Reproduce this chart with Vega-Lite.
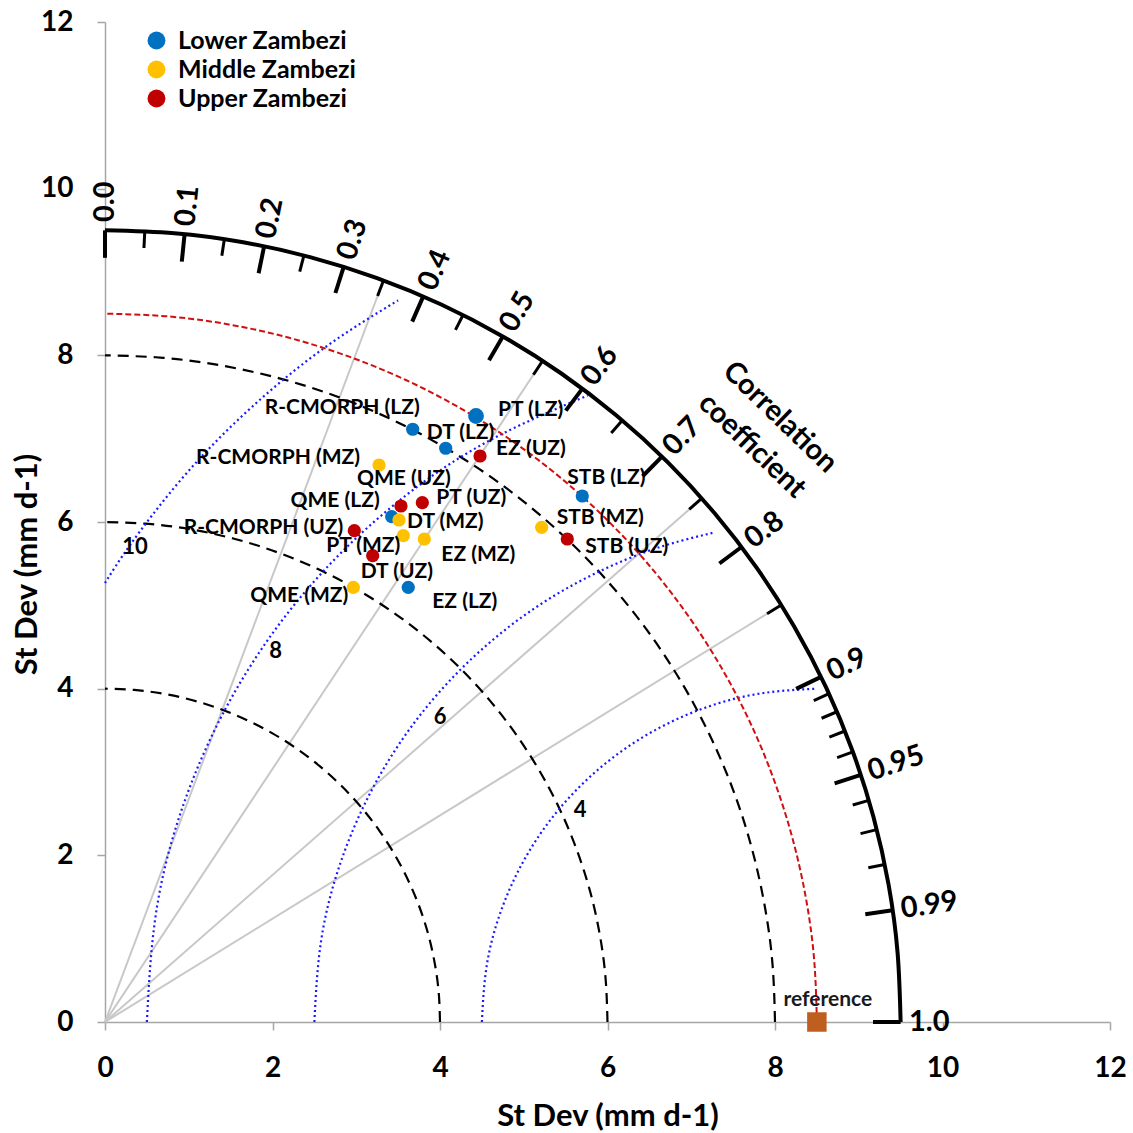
{
"$schema":"https://vega.github.io/schema/vega-lite/v6.json",
"width":1005,"height":1000,
"autosize":{"type":"none"},
"padding":{"left":105,"top":22,"right":23,"bottom":111},
"background":"white",
"config":{"view":{"stroke":null},"font":"Lato"},
"datasets":{
"pts":[
{"name":"PT (LZ)","region":"Lower Zambezi","x":4.430,"y":7.272},
{"name":"R-CMORPH (LZ)","region":"Lower Zambezi","x":3.674,"y":7.113},
{"name":"DT (LZ)","region":"Lower Zambezi","x":4.068,"y":6.885},
{"name":"STB (LZ)","region":"Lower Zambezi","x":5.699,"y":6.312},
{"name":"QME (LZ)","region":"Lower Zambezi","x":3.423,"y":6.064},
{"name":"EZ (LZ)","region":"Lower Zambezi","x":3.621,"y":5.216},
{"name":"R-CMORPH (MZ)","region":"Middle Zambezi","x":3.272,"y":6.684},
{"name":"DT (MZ)","region":"Middle Zambezi","x":3.510,"y":6.024},
{"name":"PT (MZ)","region":"Middle Zambezi","x":3.562,"y":5.836},
{"name":"EZ (MZ)","region":"Middle Zambezi","x":3.813,"y":5.796},
{"name":"STB (MZ)","region":"Middle Zambezi","x":5.214,"y":5.936},
{"name":"QME (MZ)","region":"Middle Zambezi","x":2.965,"y":5.216},
{"name":"EZ (UZ)","region":"Upper Zambezi","x":4.478,"y":6.792},
{"name":"QME (UZ)","region":"Upper Zambezi","x":3.534,"y":6.192},
{"name":"PT (UZ)","region":"Upper Zambezi","x":3.789,"y":6.232},
{"name":"R-CMORPH (UZ)","region":"Upper Zambezi","x":2.977,"y":5.896},
{"name":"DT (UZ)","region":"Upper Zambezi","x":3.196,"y":5.596},
{"name":"STB (UZ)","region":"Upper Zambezi","x":5.520,"y":5.796}
],
"curves":[
{"curve":"sd4","i":0,"x":4,"y":0},{"curve":"sd4","i":1,"x":3.985,"y":0.349},{"curve":"sd4","i":2,"x":3.939,"y":0.695},{"curve":"sd4","i":3,"x":3.864,"y":1.035},{"curve":"sd4","i":4,"x":3.759,"y":1.368},{"curve":"sd4","i":5,"x":3.625,"y":1.69},{"curve":"sd4","i":6,"x":3.464,"y":2},{"curve":"sd4","i":7,"x":3.277,"y":2.294},{"curve":"sd4","i":8,"x":3.064,"y":2.571},{"curve":"sd4","i":9,"x":2.828,"y":2.828},{"curve":"sd4","i":10,"x":2.571,"y":3.064},{"curve":"sd4","i":11,"x":2.294,"y":3.277},{"curve":"sd4","i":12,"x":2,"y":3.464},{"curve":"sd4","i":13,"x":1.69,"y":3.625},{"curve":"sd4","i":14,"x":1.368,"y":3.759},{"curve":"sd4","i":15,"x":1.035,"y":3.864},{"curve":"sd4","i":16,"x":0.695,"y":3.939},{"curve":"sd4","i":17,"x":0.349,"y":3.985},{"curve":"sd4","i":18,"x":0,"y":4},
{"curve":"sd6","i":0,"x":6,"y":0},{"curve":"sd6","i":1,"x":5.977,"y":0.523},{"curve":"sd6","i":2,"x":5.909,"y":1.042},{"curve":"sd6","i":3,"x":5.796,"y":1.553},{"curve":"sd6","i":4,"x":5.638,"y":2.052},{"curve":"sd6","i":5,"x":5.438,"y":2.536},{"curve":"sd6","i":6,"x":5.196,"y":3},{"curve":"sd6","i":7,"x":4.915,"y":3.441},{"curve":"sd6","i":8,"x":4.596,"y":3.857},{"curve":"sd6","i":9,"x":4.243,"y":4.243},{"curve":"sd6","i":10,"x":3.857,"y":4.596},{"curve":"sd6","i":11,"x":3.441,"y":4.915},{"curve":"sd6","i":12,"x":3,"y":5.196},{"curve":"sd6","i":13,"x":2.536,"y":5.438},{"curve":"sd6","i":14,"x":2.052,"y":5.638},{"curve":"sd6","i":15,"x":1.553,"y":5.796},{"curve":"sd6","i":16,"x":1.042,"y":5.909},{"curve":"sd6","i":17,"x":0.523,"y":5.977},{"curve":"sd6","i":18,"x":0,"y":6},
{"curve":"sd8","i":0,"x":8,"y":0},{"curve":"sd8","i":1,"x":7.97,"y":0.697},{"curve":"sd8","i":2,"x":7.878,"y":1.389},{"curve":"sd8","i":3,"x":7.727,"y":2.071},{"curve":"sd8","i":4,"x":7.518,"y":2.736},{"curve":"sd8","i":5,"x":7.25,"y":3.381},{"curve":"sd8","i":6,"x":6.928,"y":4},{"curve":"sd8","i":7,"x":6.553,"y":4.589},{"curve":"sd8","i":8,"x":6.128,"y":5.142},{"curve":"sd8","i":9,"x":5.657,"y":5.657},{"curve":"sd8","i":10,"x":5.142,"y":6.128},{"curve":"sd8","i":11,"x":4.589,"y":6.553},{"curve":"sd8","i":12,"x":4,"y":6.928},{"curve":"sd8","i":13,"x":3.381,"y":7.25},{"curve":"sd8","i":14,"x":2.736,"y":7.518},{"curve":"sd8","i":15,"x":2.071,"y":7.727},{"curve":"sd8","i":16,"x":1.389,"y":7.878},{"curve":"sd8","i":17,"x":0.697,"y":7.97},{"curve":"sd8","i":18,"x":0,"y":8},
{"curve":"r85","i":0,"x":8.5,"y":0},{"curve":"r85","i":1,"x":8.468,"y":0.741},{"curve":"r85","i":2,"x":8.371,"y":1.476},{"curve":"r85","i":3,"x":8.21,"y":2.2},{"curve":"r85","i":4,"x":7.987,"y":2.907},{"curve":"r85","i":5,"x":7.704,"y":3.592},{"curve":"r85","i":6,"x":7.361,"y":4.25},{"curve":"r85","i":7,"x":6.963,"y":4.875},{"curve":"r85","i":8,"x":6.511,"y":5.464},{"curve":"r85","i":9,"x":6.01,"y":6.01},{"curve":"r85","i":10,"x":5.464,"y":6.511},{"curve":"r85","i":11,"x":4.875,"y":6.963},{"curve":"r85","i":12,"x":4.25,"y":7.361},{"curve":"r85","i":13,"x":3.592,"y":7.704},{"curve":"r85","i":14,"x":2.907,"y":7.987},{"curve":"r85","i":15,"x":2.2,"y":8.21},{"curve":"r85","i":16,"x":1.476,"y":8.371},{"curve":"r85","i":17,"x":0.741,"y":8.468},{"curve":"r85","i":18,"x":0,"y":8.5},
{"curve":"outer","i":0,"x":9.5,"y":0},{"curve":"outer","i":1,"x":9.464,"y":0.828},{"curve":"outer","i":2,"x":9.356,"y":1.65},{"curve":"outer","i":3,"x":9.176,"y":2.459},{"curve":"outer","i":4,"x":8.927,"y":3.249},{"curve":"outer","i":5,"x":8.61,"y":4.015},{"curve":"outer","i":6,"x":8.227,"y":4.75},{"curve":"outer","i":7,"x":7.782,"y":5.449},{"curve":"outer","i":8,"x":7.277,"y":6.107},{"curve":"outer","i":9,"x":6.718,"y":6.718},{"curve":"outer","i":10,"x":6.107,"y":7.277},{"curve":"outer","i":11,"x":5.449,"y":7.782},{"curve":"outer","i":12,"x":4.75,"y":8.227},{"curve":"outer","i":13,"x":4.015,"y":8.61},{"curve":"outer","i":14,"x":3.249,"y":8.927},{"curve":"outer","i":15,"x":2.459,"y":9.176},{"curve":"outer","i":16,"x":1.65,"y":9.356},{"curve":"outer","i":17,"x":0.828,"y":9.464},{"curve":"outer","i":18,"x":0,"y":9.5},
{"curve":"rms4","i":0,"x":4.5,"y":0},{"curve":"rms4","i":1,"x":4.561,"y":0.695},{"curve":"rms4","i":2,"x":4.741,"y":1.368},{"curve":"rms4","i":3,"x":5.036,"y":2},{"curve":"rms4","i":4,"x":5.436,"y":2.571},{"curve":"rms4","i":5,"x":5.929,"y":3.064},{"curve":"rms4","i":6,"x":6.5,"y":3.464},{"curve":"rms4","i":7,"x":7.132,"y":3.759},{"curve":"rms4","i":8,"x":7.805,"y":3.939},{"curve":"rms4","i":9,"x":8.5,"y":4},
{"curve":"rms6","i":0,"x":2.5,"y":0},{"curve":"rms6","i":1,"x":2.591,"y":1.042},{"curve":"rms6","i":2,"x":2.862,"y":2.052},{"curve":"rms6","i":3,"x":3.304,"y":3},{"curve":"rms6","i":4,"x":3.904,"y":3.857},{"curve":"rms6","i":5,"x":4.643,"y":4.596},{"curve":"rms6","i":6,"x":5.5,"y":5.196},{"curve":"rms6","i":7,"x":6.448,"y":5.638},{"curve":"rms6","i":8,"x":7.253,"y":5.869},
{"curve":"rms8","i":0,"x":0.5,"y":0},{"curve":"rms8","i":1,"x":0.622,"y":1.389},{"curve":"rms8","i":2,"x":0.982,"y":2.736},{"curve":"rms8","i":3,"x":1.572,"y":4},{"curve":"rms8","i":4,"x":2.372,"y":5.142},{"curve":"rms8","i":5,"x":3.358,"y":6.128},{"curve":"rms8","i":6,"x":4.5,"y":6.928},{"curve":"rms8","i":7,"x":5.764,"y":7.518},
{"curve":"rms10","i":0,"x":0,"y":5.268},{"curve":"rms10","i":1,"x":0.308,"y":5.736},{"curve":"rms10","i":2,"x":0.84,"y":6.428},{"curve":"rms10","i":3,"x":1.429,"y":7.071},{"curve":"rms10","i":4,"x":2.072,"y":7.66},{"curve":"rms10","i":5,"x":2.764,"y":8.192},{"curve":"rms10","i":6,"x":3.5,"y":8.66}
],
"rays":[
{"c":0.35,"x":0,"y":0,"x2":3.255,"y2":8.712},
{"c":0.55,"x":0,"y":0,"x2":5.115,"y2":7.767},
{"c":0.75,"x":0,"y":0,"x2":6.975,"y2":6.151},
{"c":0.85,"x":0,"y":0,"x2":7.905,"y2":4.899}
],
"ticks":[
{"c":0,"major":true,"x":0,"y":9.5,"x2":0,"y2":9.17},
{"c":0.1,"major":true,"x":0.95,"y":9.452,"x2":0.917,"y2":9.124},
{"c":0.2,"major":true,"x":1.9,"y":9.308,"x2":1.834,"y2":8.985},
{"c":0.3,"major":true,"x":2.85,"y":9.062,"x2":2.751,"y2":8.748},
{"c":0.4,"major":true,"x":3.8,"y":8.707,"x2":3.668,"y2":8.405},
{"c":0.5,"major":true,"x":4.75,"y":8.227,"x2":4.585,"y2":7.941},
{"c":0.6,"major":true,"x":5.7,"y":7.6,"x2":5.502,"y2":7.336},
{"c":0.7,"major":true,"x":6.65,"y":6.784,"x2":6.419,"y2":6.549},
{"c":0.8,"major":true,"x":7.6,"y":5.7,"x2":7.336,"y2":5.502},
{"c":0.9,"major":true,"x":8.55,"y":4.141,"x2":8.253,"y2":3.997},
{"c":0.95,"major":true,"x":9.025,"y":2.966,"x2":8.712,"y2":2.863},
{"c":0.99,"major":true,"x":9.405,"y":1.34,"x2":9.078,"y2":1.294},
{"c":1,"major":true,"x":9.5,"y":0,"x2":9.17,"y2":0},
{"c":0.05,"major":false,"x":0.475,"y":9.488,"x2":0.465,"y2":9.288},
{"c":0.15,"major":false,"x":1.425,"y":9.393,"x2":1.395,"y2":9.195},
{"c":0.25,"major":false,"x":2.375,"y":9.198,"x2":2.325,"y2":9.005},
{"c":0.35,"major":false,"x":3.325,"y":8.899,"x2":3.255,"y2":8.712},
{"c":0.45,"major":false,"x":4.275,"y":8.484,"x2":4.185,"y2":8.305},
{"c":0.55,"major":false,"x":5.225,"y":7.934,"x2":5.115,"y2":7.767},
{"c":0.65,"major":false,"x":6.175,"y":7.219,"x2":6.045,"y2":7.067},
{"c":0.75,"major":false,"x":7.125,"y":6.284,"x2":6.975,"y2":6.151},
{"c":0.85,"major":false,"x":8.075,"y":5.004,"x2":7.905,"y2":4.899},
{"c":0.91,"major":false,"x":8.645,"y":3.94,"x2":8.463,"y2":3.857},
{"c":0.92,"major":false,"x":8.74,"y":3.723,"x2":8.556,"y2":3.645},
{"c":0.93,"major":false,"x":8.835,"y":3.492,"x2":8.649,"y2":3.418},
{"c":0.94,"major":false,"x":8.93,"y":3.241,"x2":8.742,"y2":3.173},
{"c":0.96,"major":false,"x":9.12,"y":2.66,"x2":8.928,"y2":2.604},
{"c":0.97,"major":false,"x":9.215,"y":2.309,"x2":9.021,"y2":2.261},
{"c":0.98,"major":false,"x":9.31,"y":1.891,"x2":9.114,"y2":1.851}
],
"clabels":[
{"label":"0.0","deg":90,"x":0,"y":9.6},
{"label":"0.1","deg":84.26,"x":0.96,"y":9.552},
{"label":"0.2","deg":78.46,"x":1.92,"y":9.406},
{"label":"0.3","deg":72.54,"x":2.88,"y":9.158},
{"label":"0.4","deg":66.42,"x":3.84,"y":8.799},
{"label":"0.5","deg":60,"x":4.8,"y":8.314},
{"label":"0.6","deg":53.13,"x":5.76,"y":7.68},
{"label":"0.7","deg":45.57,"x":6.72,"y":6.856},
{"label":"0.8","deg":36.87,"x":7.68,"y":5.76},
{"label":"0.9","deg":25.84,"x":8.64,"y":4.185},
{"label":"0.95","deg":18.19,"x":9.12,"y":2.998},
{"label":"0.99","deg":8.11,"x":9.504,"y":1.354},
{"label":"1.0","deg":0,"x":9.6,"y":0}
],
"notes":[
{"text":"10","x":0.358,"y":5.70},
{"text":"8","x":2.038,"y":4.456},
{"text":"6","x":4.0,"y":3.664},
{"text":"4","x":5.672,"y":2.544}
],
"ref":[{"name":"reference","x":8.5,"y":0}]
},
"encoding":{
"x":{"field":"x","type":"quantitative","scale":{"domain":[0,12],"nice":false,"zero":false},
"axis":{"values":[0,2,4,6,8,10,12],"grid":false,"domainColor":"#A6A6A6","domainWidth":1.5,"tickColor":"#A6A6A6","tickSize":8,"tickWidth":1.5,"labelFont":"Lato","labelFontSize":28,"labelFontWeight":"bold","labelColor":"#000","labelPadding":24,"labelFlush":false,"labelOverlap":false,"title":"St Dev (mm d-1)","titleFont":"Lato","titleFontSize":31,"titleFontWeight":"bold","titleColor":"#000","titleY":94,"titleBaseline":"middle"}},
"y":{"field":"y","type":"quantitative","scale":{"domain":[0,12],"nice":false,"zero":false},
"axis":{"values":[0,2,4,6,8,10,12],"grid":false,"domainColor":"#A6A6A6","domainWidth":1.5,"tickColor":"#A6A6A6","tickSize":8,"tickWidth":1.5,"labelFont":"Lato","labelFontSize":28,"labelFontWeight":"bold","labelColor":"#000","labelPadding":24,"labelFlush":false,"labelOverlap":false,"title":"St Dev (mm d-1)","titleFont":"Lato","titleFontSize":31,"titleFontWeight":"bold","titleColor":"#000","titleX":-78,"titleY":542,"titleAngle":270,"titleAlign":"center","titleBaseline":"middle"}}
},
"layer":[
{"data":{"name":"rays"},"mark":{"type":"rule","color":"#C8C8C8","strokeWidth":2},"encoding":{"x2":{"field":"x2"},"y2":{"field":"y2"}}},
{"data":{"name":"curves"},"transform":[{"filter":{"field":"curve","oneOf":["sd4","sd6","sd8"]}}],"mark":{"type":"line","color":"#000","strokeWidth":2.2,"strokeDash":[11,7],"interpolate":"natural"},"encoding":{"detail":{"field":"curve"},"order":{"field":"i","type":"quantitative"}}},
{"data":{"name":"curves"},"transform":[{"filter":{"field":"curve","oneOf":["rms4","rms6","rms8","rms10"]}}],"mark":{"type":"line","color":"#1A1AFF","strokeWidth":2.2,"strokeDash":[2,3],"interpolate":"natural"},"encoding":{"detail":{"field":"curve"},"order":{"field":"i","type":"quantitative"}}},
{"data":{"name":"curves"},"transform":[{"filter":{"field":"curve","equal":"r85"}}],"mark":{"type":"line","color":"#D01010","strokeWidth":2,"strokeDash":[6,3],"interpolate":"natural"},"encoding":{"order":{"field":"i","type":"quantitative"}}},
{"data":{"name":"curves"},"transform":[{"filter":{"field":"curve","equal":"outer"}}],"mark":{"type":"line","color":"#000","strokeWidth":4,"interpolate":"natural"},"encoding":{"order":{"field":"i","type":"quantitative"}}},
{"data":{"name":"ticks"},"mark":{"type":"rule","color":"#000"},"encoding":{"x2":{"field":"x2"},"y2":{"field":"y2"},"strokeWidth":{"condition":{"test":"datum.major","value":4},"value":3}}},
{"data":{"name":"clabels"},"mark":{"type":"text","align":"left","baseline":"middle","font":"Lato","fontSize":29,"fontWeight":"bold","color":"#000"},"encoding":{"text":{"field":"label"},"angle":{"field":"deg","type":"quantitative","scale":{"domain":[0,90],"range":[360,270]}}}},
{"data":{"values":[{"x":8.06,"y":7.26}]},"mark":{"type":"text","text":["Correlation","coefficient"],"align":"center","baseline":"middle","angle":44,"lineHeight":40,"font":"Lato","fontSize":29,"fontWeight":"bold","color":"#000"}},
{"data":{"name":"notes"},"mark":{"type":"text","align":"center","baseline":"middle","font":"Lato","fontSize":22,"fontWeight":"bold","color":"#000"},"encoding":{"text":{"field":"text"}}},
{"data":{"name":"ref"},"mark":{"type":"square","filled":true,"color":"#BF5F1F","size":380,"opacity":1}},
{"data":{"name":"ref"},"mark":{"type":"text","align":"center","baseline":"middle","dx":11,"dy":-22,"font":"Lato","fontSize":21,"fontWeight":"bold","color":"#1A1A1A"},"encoding":{"text":{"field":"name"}}},
{"data":{"name":"pts"},"mark":{"type":"point","filled":true,"shape":"circle","opacity":1,"strokeWidth":0},"encoding":{"color":{"field":"region","type":"nominal","scale":{"domain":["Lower Zambezi","Middle Zambezi","Upper Zambezi"],"range":["#0070C0","#FFC000","#C00000"]},"legend":{"title":null,"orient":"none","legendX":39,"legendY":6,"symbolType":"circle","symbolSize":320,"symbolStrokeWidth":0,"symbolOpacity":1,"labelFont":"Lato","labelFontSize":25,"labelFontWeight":"bold","labelColor":"#000","labelOffset":9,"labelLimit":0,"rowPadding":3}},"size":{"condition":{"test":"datum.name==='PT (LZ)'","value":250},"value":175}}},
{"data":{"name":"pts"},"transform":[{"filter":"datum.name==='PT (LZ)'"}],"mark":{"type":"text","align":"left","baseline":"middle","dx":22,"dy":-6,"font":"Lato","fontSize":21,"fontWeight":"bold","color":"#000"},"encoding":{"text":{"field":"name"}}},
{"data":{"name":"pts"},"transform":[{"filter":"datum.name==='R-CMORPH (LZ)'"}],"mark":{"type":"text","align":"right","baseline":"middle","dx":7,"dy":-21,"font":"Lato","fontSize":21,"fontWeight":"bold","color":"#000"},"encoding":{"text":{"field":"name"}}},
{"data":{"name":"pts"},"transform":[{"filter":"datum.name==='DT (LZ)'"}],"mark":{"type":"text","align":"left","baseline":"middle","dx":-19,"dy":-15,"font":"Lato","fontSize":21,"fontWeight":"bold","color":"#000"},"encoding":{"text":{"field":"name"}}},
{"data":{"name":"pts"},"transform":[{"filter":"datum.name==='STB (LZ)'"}],"mark":{"type":"text","align":"left","baseline":"middle","dx":-15,"dy":-18,"font":"Lato","fontSize":21,"fontWeight":"bold","color":"#000"},"encoding":{"text":{"field":"name"}}},
{"data":{"name":"pts"},"transform":[{"filter":"datum.name==='QME (LZ)'"}],"mark":{"type":"text","align":"right","baseline":"middle","dx":-12,"dy":-16,"font":"Lato","fontSize":21,"fontWeight":"bold","color":"#000"},"encoding":{"text":{"field":"name"}}},
{"data":{"name":"pts"},"transform":[{"filter":"datum.name==='EZ (LZ)'"}],"mark":{"type":"text","align":"left","baseline":"middle","dx":24,"dy":15,"font":"Lato","fontSize":21,"fontWeight":"bold","color":"#000"},"encoding":{"text":{"field":"name"}}},
{"data":{"name":"pts"},"transform":[{"filter":"datum.name==='R-CMORPH (MZ)'"}],"mark":{"type":"text","align":"right","baseline":"middle","dx":-19,"dy":-7,"font":"Lato","fontSize":21,"fontWeight":"bold","color":"#000"},"encoding":{"text":{"field":"name"}}},
{"data":{"name":"pts"},"transform":[{"filter":"datum.name==='DT (MZ)'"}],"mark":{"type":"text","align":"left","baseline":"middle","dx":8,"dy":2,"font":"Lato","fontSize":21,"fontWeight":"bold","color":"#000"},"encoding":{"text":{"field":"name"}}},
{"data":{"name":"pts"},"transform":[{"filter":"datum.name==='PT (MZ)'"}],"mark":{"type":"text","align":"right","baseline":"middle","dx":-3,"dy":10,"font":"Lato","fontSize":21,"fontWeight":"bold","color":"#000"},"encoding":{"text":{"field":"name"}}},
{"data":{"name":"pts"},"transform":[{"filter":"datum.name==='EZ (MZ)'"}],"mark":{"type":"text","align":"left","baseline":"middle","dx":17,"dy":16,"font":"Lato","fontSize":21,"fontWeight":"bold","color":"#000"},"encoding":{"text":{"field":"name"}}},
{"data":{"name":"pts"},"transform":[{"filter":"datum.name==='STB (MZ)'"}],"mark":{"type":"text","align":"left","baseline":"middle","dx":15,"dy":-9,"font":"Lato","fontSize":21,"fontWeight":"bold","color":"#000"},"encoding":{"text":{"field":"name"}}},
{"data":{"name":"pts"},"transform":[{"filter":"datum.name==='QME (MZ)'"}],"mark":{"type":"text","align":"right","baseline":"middle","dx":-5,"dy":9,"font":"Lato","fontSize":21,"fontWeight":"bold","color":"#000"},"encoding":{"text":{"field":"name"}}},
{"data":{"name":"pts"},"transform":[{"filter":"datum.name==='EZ (UZ)'"}],"mark":{"type":"text","align":"left","baseline":"middle","dx":16,"dy":-7,"font":"Lato","fontSize":21,"fontWeight":"bold","color":"#000"},"encoding":{"text":{"field":"name"}}},
{"data":{"name":"pts"},"transform":[{"filter":"datum.name==='QME (UZ)'"}],"mark":{"type":"text","align":"left","baseline":"middle","dx":-44,"dy":-27,"font":"Lato","fontSize":21,"fontWeight":"bold","color":"#000"},"encoding":{"text":{"field":"name"}}},
{"data":{"name":"pts"},"transform":[{"filter":"datum.name==='PT (UZ)'"}],"mark":{"type":"text","align":"left","baseline":"middle","dx":14,"dy":-5,"font":"Lato","fontSize":21,"fontWeight":"bold","color":"#000"},"encoding":{"text":{"field":"name"}}},
{"data":{"name":"pts"},"transform":[{"filter":"datum.name==='R-CMORPH (UZ)'"}],"mark":{"type":"text","align":"right","baseline":"middle","dx":-11,"dy":-3,"font":"Lato","fontSize":21,"fontWeight":"bold","color":"#000"},"encoding":{"text":{"field":"name"}}},
{"data":{"name":"pts"},"transform":[{"filter":"datum.name==='DT (UZ)'"}],"mark":{"type":"text","align":"left","baseline":"middle","dx":-12,"dy":16,"font":"Lato","fontSize":21,"fontWeight":"bold","color":"#000"},"encoding":{"text":{"field":"name"}}},
{"data":{"name":"pts"},"transform":[{"filter":"datum.name==='STB (UZ)'"}],"mark":{"type":"text","align":"left","baseline":"middle","dx":18,"dy":8,"font":"Lato","fontSize":21,"fontWeight":"bold","color":"#000"},"encoding":{"text":{"field":"name"}}}
]
}
